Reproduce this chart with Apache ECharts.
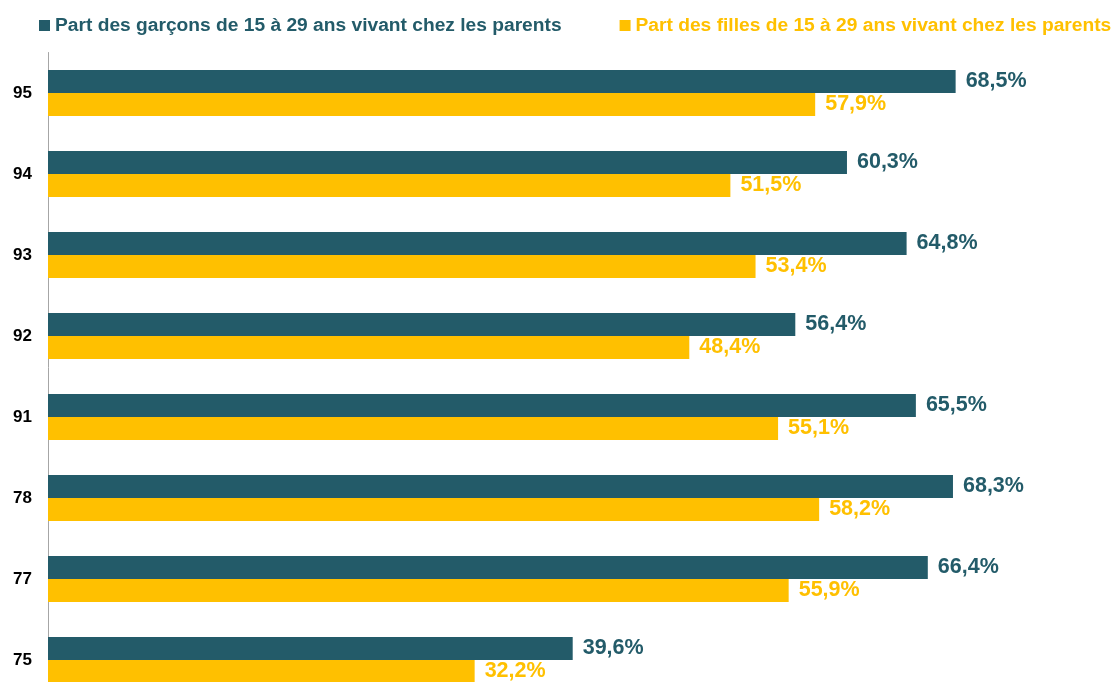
<!DOCTYPE html>
<html>
<head>
<meta charset="utf-8">
<script src="https://cdn.jsdelivr.net/npm/echarts@6/dist/echarts.min.js"></script>
<style>
  html, body { margin: 0; padding: 0; background: #fff; }
  #chart { width: 1113px; height: 682px; }
</style>
</head>
<body>
<div id="chart"></div>
<script>
// départements, du haut vers le bas
var categories = ['95', '94', '93', '92', '91', '78', '77', '75'];
var garcons = [68.5, 60.3, 64.8, 56.4, 65.5, 68.3, 66.4, 39.6];
var filles = [57.9, 51.5, 53.4, 48.4, 55.1, 58.2, 55.9, 32.2];
var seriesNames = [
  'Part des garçons de 15 à 29 ans vivant chez les parents',
  'Part des filles de 15 à 29 ans vivant chez les parents'
];

var DARK = '#235B69';
var YELLOW = '#FFC000';
var FONT = '"Liberation Sans", Arial, sans-serif';

function pct(p) {
  return p.value.toFixed(1).replace('.', ',') + '%';
}

var chart = echarts.init(document.getElementById('chart'));
var option = {
  animation: false,
  legend: {
    left: 34,
    top: 11,
    width: 1200,
    itemWidth: 11,
    itemHeight: 11,
    itemGap: 58,
    icon: 'rect',
    data: [
      { name: seriesNames[0], textStyle: { color: DARK } },
      { name: seriesNames[1], textStyle: { color: YELLOW } }
    ],
    textStyle: { fontFamily: FONT, fontSize: 19.2, fontWeight: 'bold' }
  },
  // la dernière catégorie déborde en bas, comme dans l'original
  grid: {
    left: 48,
    top: 52.5,
    width: 1060,
    height: 648,
    outerBoundsMode: 'none'
  },
  xAxis: {
    type: 'value',
    min: 0,
    max: 80,
    show: false
  },
  yAxis: {
    type: 'category',
    inverse: true,
    data: categories,
    axisLine: { show: true, lineStyle: { color: '#A6A6A6', width: 1 } },
    axisTick: { show: false },
    axisLabel: {
      color: '#000',
      fontFamily: FONT,
      fontSize: 17,
      fontWeight: 'bold',
      margin: 16
    }
  },
  series: [
    {
      name: seriesNames[0],
      type: 'bar',
      data: garcons,
      barWidth: 23,
      barGap: '0%',
      itemStyle: { color: DARK },
      label: {
        show: true,
        position: 'right',
        distance: 10,
        formatter: pct,
        color: DARK,
        fontFamily: FONT,
        fontSize: 21.5,
        fontWeight: 'bold'
      }
    },
    {
      name: seriesNames[1],
      type: 'bar',
      data: filles,
      barWidth: 23,
      barGap: '0%',
      itemStyle: { color: YELLOW },
      label: {
        show: true,
        position: 'right',
        distance: 10,
        formatter: pct,
        color: YELLOW,
        fontFamily: FONT,
        fontSize: 21.5,
        fontWeight: 'bold'
      }
    }
  ]
};
chart.setOption(option);
</script>
</body>
</html>
